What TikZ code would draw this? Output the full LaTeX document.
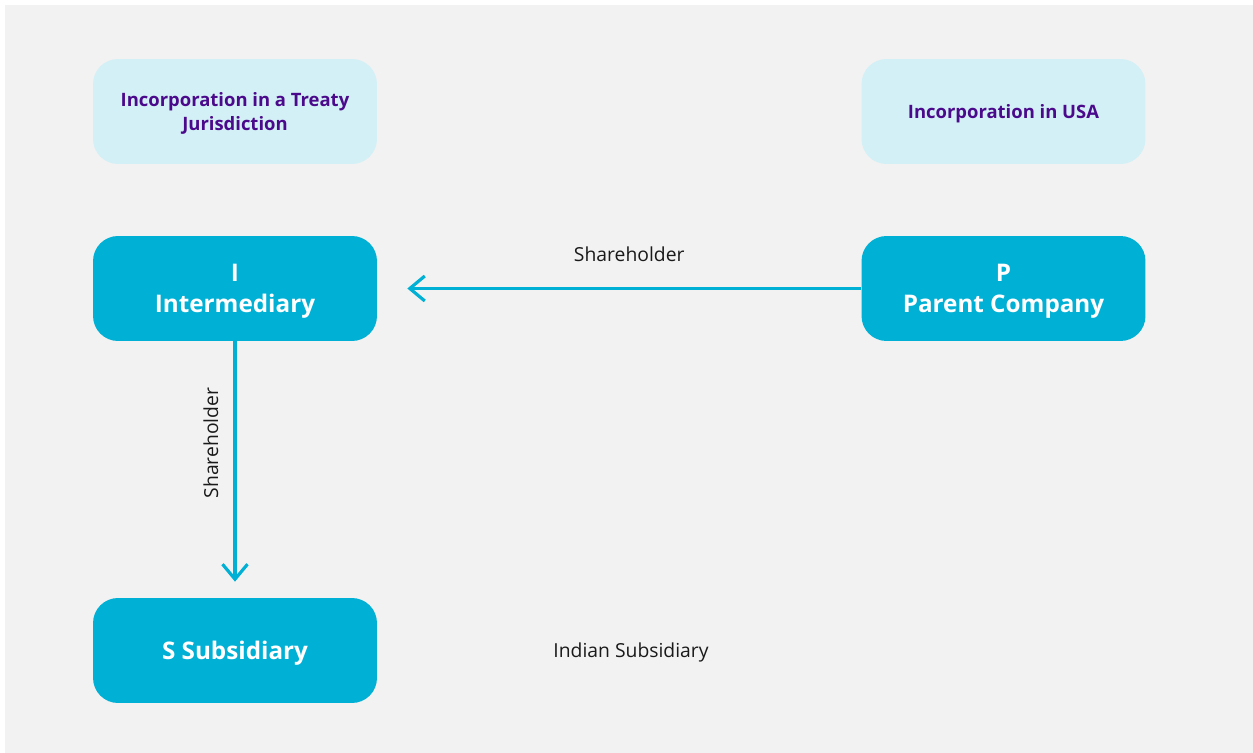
\documentclass[tikz,border=0pt]{standalone}
\usepackage{fontspec}
\setmainfont{Open Sans}
\usetikzlibrary{arrows.meta}
\definecolor{bggray}{HTML}{F2F2F2}
\definecolor{entityblue}{HTML}{00B0D5}
\definecolor{jurblue}{HTML}{D3F0F6}
\definecolor{jurpurple}{HTML}{4B0A8C}
\definecolor{labelblack}{HTML}{1A1A1A}

\tikzset{
    entitybox/.style={fill=entityblue, rounded corners=0.5cm, minimum width=5.68cm, minimum height=2.1cm,
        text=white, font=\fontsize{13.8}{17.5}\selectfont\bfseries, align=center, inner sep=0,
        text depth=-0.1cm},
    jurbox/.style={fill=jurblue, rounded corners=0.5cm, minimum width=5.68cm, minimum height=2.1cm,
        text=jurpurple, font=\fontsize{10.5}{13.5}\selectfont\bfseries, align=center, inner sep=0,
        text depth=-0.06cm},
    holding/.style={draw=entityblue, line width=1.8pt, -{Straight Barb[length=0.3cm, width=0.5cm, line width=1.8pt]}},
    plainlabel/.style={text=labelblack, font=\fontsize{11}{13}\selectfont, inner sep=0}
}

\begin{document}
\begin{tikzpicture}[x=0.02cm, y=-0.02cm]
    \useasboundingbox (0,0) rectangle (1253,753);
    \fill[white] (0,0) rectangle (1253,753);
    \fill[bggray] (5,5) rectangle (1253,753);

    % jurisdictions
    \node[jurbox] (treatyjur) at (235,111.5) {Incorporation in a Treaty\\Jurisdiction};
    \node[jurbox] (usajur) at (1003.5,111.5) {Incorporation in USA};

    % entities
    \node[entitybox] (intermediary) at (235,288.5) {I\\Intermediary};
    \node[entitybox] (parent) at (1003.5,288.5) {P\\Parent Company};
    \node[entitybox] (subsidiary) at (235,650.5) {S Subsidiary};

    \node[plainlabel] (indianlbl) at (631,652) {Indian Subsidiary};

    % shareholdings
    \draw[holding, shorten >=0.6cm] (parent.west) -- (intermediary.east)
        node[plainlabel, pos=0.5, above=0.5cm, xshift=0.2cm] (sharelblh) {Shareholder};
    \draw[holding, shorten >=0.32cm] (intermediary.south) -- (subsidiary.north)
        node[plainlabel, pos=0.397, rotate=90, above=0.3cm] (sharelblv) {Shareholder};
\end{tikzpicture}
\end{document}
